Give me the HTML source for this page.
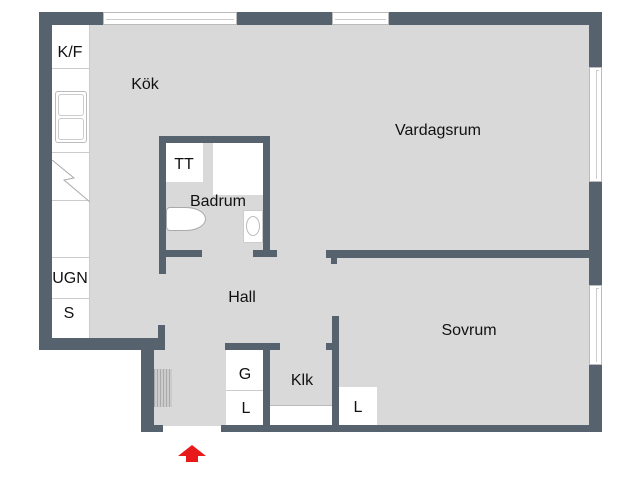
<!DOCTYPE html>
<html><head><meta charset="utf-8"><style>
body{margin:0;width:640px;height:479px;background:#fff;position:relative;overflow:hidden;font-family:"Liberation Sans",sans-serif}
div{position:absolute;box-sizing:border-box}
.w{background:#56636e}
.f{background:#d9d9d9}
.wh{background:#fff}
.t{font-size:16px;color:#111;white-space:nowrap;transform:translate(-50%,-50%)}
.win{background:#fff;border:1px solid #bbb}
.win::after{content:"";position:absolute;left:2px;right:2px;top:50%;border-top:1px solid #ccc}
.winv::after{content:"";position:absolute;top:2px;bottom:2px;left:50%;border-left:1px solid #ccc}
</style></head><body>
<!-- floors -->
<div class="f" style="left:52px;top:25px;width:537px;height:401px"></div>
<div class="wh" style="left:39px;top:350px;width:102px;height:90px"></div>
<div class="f" style="left:154px;top:350px;width:10px;height:76px"></div>
<!-- kitchen strip -->
<div class="wh" style="left:52px;top:25px;width:38px;height:313px;border-right:1px solid #ccc"></div>
<div style="left:52px;top:68px;width:38px;height:1px;background:#ccc"></div>
<div style="left:55px;top:91px;width:32px;height:52px;border:1px solid #bbb;border-radius:3px"></div>
<div style="left:58px;top:94px;width:26px;height:22px;border:1px solid #ccc;border-radius:3px"></div>
<div style="left:58px;top:118px;width:26px;height:22px;border:1px solid #ccc;border-radius:3px"></div>
<div style="left:52px;top:152px;width:38px;height:1px;background:#ccc"></div>
<div style="left:52px;top:200px;width:38px;height:1px;background:#ccc"></div>
<svg style="position:absolute;left:52px;top:160px" width="38" height="42"><polyline points="0,0 22,18 12,20 38,42" fill="none" stroke="#aaa" stroke-width="1"/></svg>
<div style="left:52px;top:257px;width:38px;height:1px;background:#ccc"></div>
<div style="left:52px;top:298px;width:38px;height:1px;background:#ccc"></div>
<!-- outer walls -->
<div class="w" style="left:39px;top:12px;width:64px;height:13px"></div>
<div class="win" style="left:103px;top:12px;width:134px;height:13px"></div>
<div class="w" style="left:237px;top:12px;width:95px;height:13px"></div>
<div class="win" style="left:332px;top:12px;width:57px;height:13px"></div>
<div class="w" style="left:389px;top:12px;width:213px;height:13px"></div>
<div class="w" style="left:39px;top:12px;width:13px;height:338px"></div>
<div class="w" style="left:589px;top:12px;width:13px;height:55px"></div>
<div class="win winv" style="left:589px;top:67px;width:13px;height:115px"></div>
<div class="w" style="left:589px;top:182px;width:13px;height:103px"></div>
<div class="win winv" style="left:589px;top:285px;width:13px;height:80px"></div>
<div class="w" style="left:589px;top:365px;width:13px;height:67px"></div>
<div class="w" style="left:221px;top:425px;width:381px;height:7px"></div>
<div class="w" style="left:141px;top:425px;width:22px;height:7px"></div>
<div class="w" style="left:141px;top:338px;width:13px;height:94px"></div>
<div class="w" style="left:39px;top:338px;width:126px;height:12px"></div>
<div class="w" style="left:158px;top:325px;width:7px;height:25px"></div>
<!-- stairs/mat -->
<div style="left:154px;top:369px;width:18px;height:38px;background:repeating-linear-gradient(90deg,#aaa 0 1px,#ccc 1px 3px)"></div>
<!-- bathroom -->
<div class="wh" style="left:166px;top:143px;width:37px;height:39px"></div>
<div class="wh" style="left:213px;top:143px;width:50px;height:52px"></div>
<div class="wh" style="left:243px;top:210px;width:20px;height:33px;border:1px solid #ccc"></div>
<div style="left:246px;top:216px;width:14px;height:20px;border:1px solid #bbb;border-radius:50%"></div>
<div class="wh" style="left:166px;top:207px;width:40px;height:24px;border:1px solid #aaa;border-radius:4px 50% 50% 4px"></div>
<div class="w" style="left:159px;top:136px;width:111px;height:7px"></div>
<div class="w" style="left:159px;top:136px;width:7px;height:138px"></div>
<div class="w" style="left:263px;top:136px;width:7px;height:121px"></div>
<div class="w" style="left:166px;top:250px;width:36px;height:7px"></div>
<div class="w" style="left:253px;top:250px;width:24px;height:7px"></div>
<div class="w" style="left:326px;top:250px;width:263px;height:8px"></div>
<div class="w" style="left:331px;top:256px;width:6px;height:8px"></div>
<!-- closets -->
<div class="wh" style="left:226px;top:350px;width:37px;height:75px"></div>
<div style="left:226px;top:390px;width:37px;height:1px;background:#ccc"></div>
<div class="wh" style="left:270px;top:405px;width:62px;height:20px;border-top:1px solid #bbb"></div>
<div class="wh" style="left:339px;top:387px;width:38px;height:38px"></div>
<div class="w" style="left:225px;top:343px;width:55px;height:7px"></div>
<div class="w" style="left:263px;top:343px;width:7px;height:89px"></div>
<div class="w" style="left:332px;top:316px;width:7px;height:116px"></div>
<div class="w" style="left:326px;top:343px;width:7px;height:7px"></div>
<!-- arrow -->
<svg style="position:absolute;left:178px;top:445px" width="28" height="17"><polygon points="14,0 28,11 20,11 20,17 8,17 8,11 0,11" fill="#e8191b"/></svg>
<!-- labels -->
<div class="t" style="left:70px;top:53px">K/F</div>
<div class="t" style="left:145px;top:85px">Kök</div>
<div class="t" style="left:438px;top:131px">Vardagsrum</div>
<div class="t" style="left:184px;top:165px">TT</div>
<div class="t" style="left:218px;top:202px">Badrum</div>
<div class="t" style="left:242px;top:298px">Hall</div>
<div class="t" style="left:70px;top:279px">UGN</div>
<div class="t" style="left:69px;top:314px">S</div>
<div class="t" style="left:469px;top:331px">Sovrum</div>
<div class="t" style="left:245px;top:375px">G</div>
<div class="t" style="left:246px;top:409px">L</div>
<div class="t" style="left:302px;top:381px">Klk</div>
<div class="t" style="left:358px;top:408px">L</div>
</body></html>
